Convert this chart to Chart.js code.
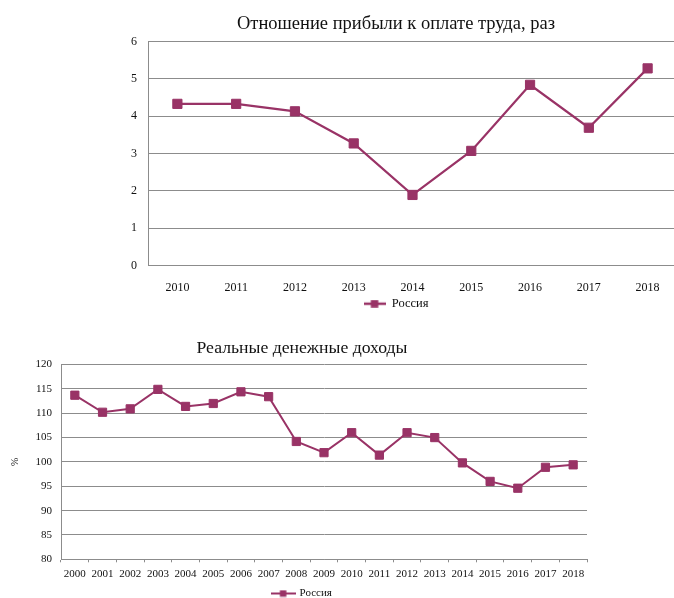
<!DOCTYPE html>
<html><head><meta charset="utf-8">
<script src="https://cdn.jsdelivr.net/npm/chart.js@4"></script>
<style>
html,body{margin:0;padding:0;background:#fff;overflow:hidden;width:674px;height:598px;position:relative;}
#c1{position:absolute;left:0;top:0;width:792px;height:320px;}
#c2{position:absolute;left:0;top:330px;width:604px;height:279px;}
</style></head><body>
<canvas id="c1" width="792" height="320"></canvas>
<canvas id="c2" width="604" height="279"></canvas>
<script>
// ---- data ----
const title1 = 'Отношение прибыли к оплате труда, раз';
const years1 = ['2010','2011','2012','2013','2014','2015','2016','2017','2018'];
const profitRatio = [4.33, 4.33, 4.13, 3.27, 1.89, 3.07, 4.84, 3.69, 5.28];
const yTicks1 = {min: 0, max: 6, step: 1};

const title2 = 'Реальные денежные доходы';
const years2 = ['2000','2001','2002','2003','2004','2005','2006','2007','2008','2009',
                '2010','2011','2012','2013','2014','2015','2016','2017','2018'];
const realIncome = [113.7, 110.2, 110.9, 114.9, 111.4, 112.0, 114.4, 113.4, 104.2, 101.9,
                    106.0, 101.4, 106.0, 105.0, 99.8, 96.0, 94.6, 98.9, 99.4];
const yTicks2 = {min: 80, max: 120, step: 5};
const yTitle2 = '%';
const seriesName = 'Россия';

// ---- style ----
const SERIES = '#993366';
const GRID = '#8c8c8c';
const TEXT = '#111111';
const FONT = "'Liberation Serif', 'Times New Roman', serif";

function legendIcon(w, h, sq, lw) {
  const c = document.createElement('canvas');
  c.width = w; c.height = h;
  const x = c.getContext('2d');
  x.strokeStyle = SERIES; x.lineWidth = lw;
  x.beginPath(); x.moveTo(0, h/2); x.lineTo(w, h/2); x.stroke();
  x.fillStyle = SERIES;
  x.fillRect((w - sq)/2, (h - sq)/2, sq, sq);
  return c;
}

// invisible right-hand axis that only reserves space (keeps title/legend centred on the full canvas)
function spacer(width) {
  return {
    position: 'right', display: true, min: 0, max: 1,
    grid: {display: false, drawTicks: false},
    border: {display: false},
    ticks: {display: false},
    afterFit: s => { s.width = width; }
  };
}

Chart.defaults.font.family = FONT;
Chart.defaults.color = TEXT;
Chart.defaults.animation = false;

new Chart(document.getElementById('c1'), {
  type: 'line',
  data: {
    labels: years1,
    datasets: [{
      label: seriesName,
      data: profitRatio,
      borderColor: SERIES,
      backgroundColor: SERIES,
      borderWidth: 2.2,
      pointStyle: 'rect',
      pointRadius: 6.5,
      pointBorderWidth: 1,
      pointBackgroundColor: SERIES,
      pointBorderColor: SERIES,
      tension: 0
    }]
  },
  options: {
    responsive: false,
    devicePixelRatio: 1,
    layout: {padding: 0},
    plugins: {
      title: {display: true, text: title1, color: TEXT,
        font: {family: FONT, size: 18.5, weight: 'normal'},
        padding: {top: 13, bottom: 6.3}},
      legend: {display: true, position: 'bottom',
        labels: {usePointStyle: true, pointStyle: legendIcon(22, 8, 7.5, 2.5), pointStyleWidth: 22,
          padding: 0, color: TEXT, font: {family: FONT, size: 12.5}}},
      tooltip: {enabled: false}
    },
    scales: {
      x: {
        offset: true,
        afterFit: s => { s.height = 32; },
        grid: {display: false, drawTicks: false},
        border: {display: true, color: GRID, width: 1},
        ticks: {padding: 15, color: TEXT, font: {family: FONT, size: 12}, maxRotation: 0}
      },
      y: {
        min: yTicks1.min, max: yTicks1.max,
        afterFit: s => { s.width = 148; },
        grid: {color: GRID, lineWidth: 1, drawTicks: false},
        border: {display: true, color: GRID, width: 1},
        ticks: {stepSize: yTicks1.step, padding: 11, color: TEXT, font: {family: FONT, size: 12}}
      },
      yr: spacer(792 - 677)
    }
  }
});

new Chart(document.getElementById('c2'), {
  type: 'line',
  data: {
    labels: years2,
    datasets: [{
      label: seriesName,
      data: realIncome,
      borderColor: SERIES,
      backgroundColor: SERIES,
      borderWidth: 2,
      pointStyle: 'rect',
      pointRadius: 5.8,
      pointBorderWidth: 1,
      pointBackgroundColor: SERIES,
      pointBorderColor: SERIES,
      tension: 0
    }]
  },
  options: {
    responsive: false,
    devicePixelRatio: 1,
    layout: {padding: 0},
    plugins: {
      title: {display: true, text: title2, color: TEXT,
        font: {family: FONT, size: 17.7, weight: 'normal'},
        padding: {top: 7.4, bottom: 5.9}},
      legend: {display: true, position: 'bottom',
        labels: {usePointStyle: true, pointStyle: legendIcon(25, 8, 6.5, 2), pointStyleWidth: 22,
          padding: 6, color: TEXT, font: {family: FONT, size: 11}}},
      tooltip: {enabled: false}
    },
    scales: {
      x: {
        offset: true,
        afterFit: s => { s.height = 22.7; },
        grid: {display: true, drawOnChartArea: false, drawTicks: true, tickLength: 3, color: GRID, offset: true},
        border: {display: true, color: GRID, width: 1},
        ticks: {padding: 5, color: TEXT, font: {family: FONT, size: 11}, maxRotation: 0, autoSkip: false}
      },
      y: {
        min: yTicks2.min, max: yTicks2.max,
        afterFit: s => { s.width = 61; },
        title: {display: true, text: yTitle2, color: TEXT, font: {family: FONT, size: 10}, padding: {top: 9, bottom: 0}},
        grid: {color: GRID, lineWidth: 1, drawTicks: false},
        border: {display: true, color: GRID, width: 1},
        ticks: {stepSize: yTicks2.step, padding: 9, color: TEXT, font: {family: FONT, size: 11}}
      },
      yr: spacer(604 - 587)
    }
  }
});
</script>
</body></html>
